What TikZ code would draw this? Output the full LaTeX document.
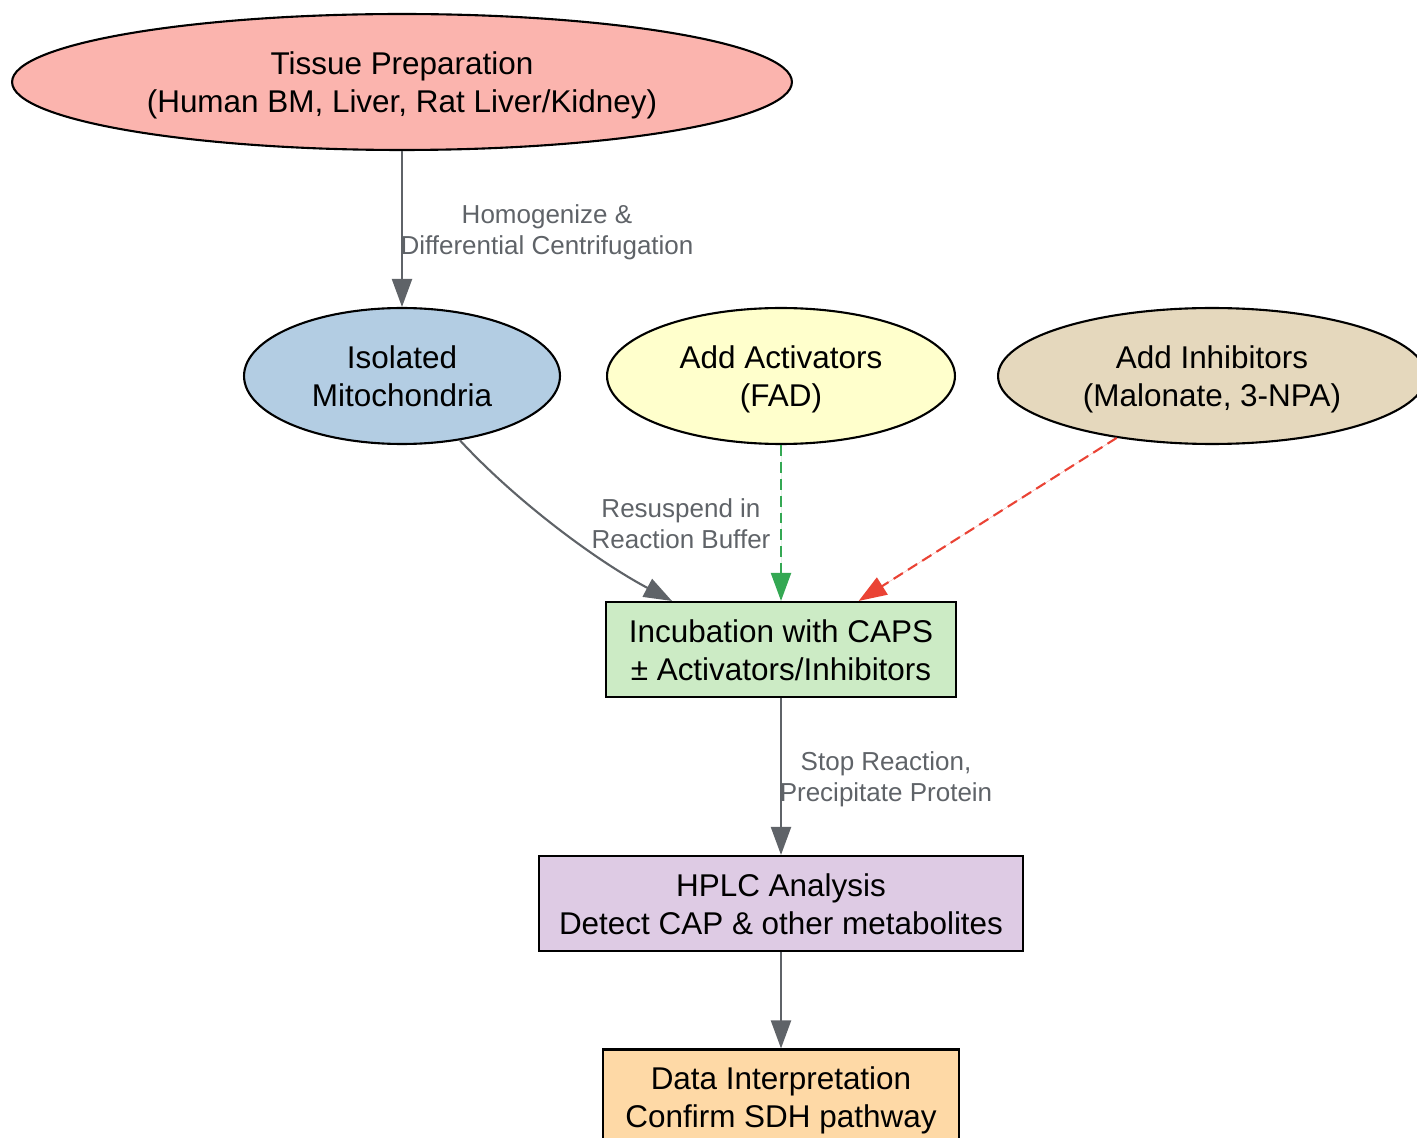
\documentclass[tikz,border=0pt]{standalone}
\usepackage{fontspec}
\setmainfont{Liberation Sans}
\usetikzlibrary{shapes.geometric,arrows.meta}

\definecolor{tissuefill}{HTML}{FBB4AE}
\definecolor{mitofill}{HTML}{B3CDE3}
\definecolor{actfill}{HTML}{FFFFCC}
\definecolor{inhfill}{HTML}{E5D8BD}
\definecolor{incubfill}{HTML}{CCEBC5}
\definecolor{hplcfill}{HTML}{DECBE4}
\definecolor{datafill}{HTML}{FED9A6}
\definecolor{edgegray}{HTML}{5F6368}
\definecolor{actgreen}{HTML}{34A853}
\definecolor{inhred}{HTML}{EA4335}

\begin{document}
\begin{tikzpicture}[x=0.02cm, y=-0.02cm,
        twoline/.style={align=center, inner sep=0pt,
            font=\fontsize{17.9pt}{21.6pt}\selectfont,
            execute at begin node=\rule{0pt}{39pt},
            execute at end node=\rule[-3.8pt]{0pt}{3.8pt}},
        oval/.style={twoline, draw, ellipse, line width=1.2pt, minimum height=2.72cm},
        stepbox/.style={twoline, draw, rectangle, line width=1.2pt, minimum height=1.9cm},
        flow/.style={draw=edgegray, line width=1.2pt, -{Triangle[length=0.56cm, width=0.4cm]}},
        hint/.style={dash pattern=on 6.2pt off 3.4pt},
        note/.style={text=edgegray, align=center, inner sep=0pt,
            font=\fontsize{14.8pt}{17.6pt}\selectfont}]
        \useasboundingbox (0, 0) rectangle (1417, 1138);
        \node[oval, fill=tissuefill, minimum width=15.6cm] at (402, 82) (tissue) {Tissue Preparation\\(Human BM, Liver, Rat Liver/Kidney)};
        \node[oval, fill=mitofill, minimum width=6.32cm] at (402, 376) (mito) {Isolated\\Mitochondria};
        \node[oval, fill=actfill, minimum width=6.96cm] at (781, 376) (act) {Add Activators\\(FAD)};
        \node[oval, fill=inhfill, minimum width=8.56cm] at (1212, 376) (inh) {Add Inhibitors\\(Malonate, 3-NPA)};
        \node[stepbox, fill=incubfill, minimum width=7cm] at (781, 649.5) (incub) {Incubation with CAPS\\± Activators/Inhibitors};
        \node[stepbox, fill=hplcfill, minimum width=9.68cm] at (781, 903.5) (hplc) {HPLC Analysis\\Detect CAP \& other metabolites};
        \node[stepbox, fill=datafill, minimum width=7.12cm] at (781, 1097) (data) {Data Interpretation\\Confirm SDH pathway};

        \draw[flow] (tissue) -- (mito);
        \node[note] at (547, 232) (homog) {Homogenize \&\\Differential Centrifugation};
        \draw[flow] (mito.-48) .. controls (515, 500) and (595, 560) .. (incub.156.5);
        \node[note] at (681, 524) (resusp) {Resuspend in\\Reaction Buffer};
        \draw[flow, hint, draw=actgreen, fill=actgreen] (act) -- (incub);
        \draw[flow, hint, draw=inhred, fill=inhred] (inh.-147.3) -- (incub.32);
        \draw[flow] (incub) -- (hplc);
        \node[note] at (886, 779) (stop) {Stop Reaction,\\Precipitate Protein};
        \draw[flow] (hplc) -- (data);
    \end{tikzpicture}
\end{document}
